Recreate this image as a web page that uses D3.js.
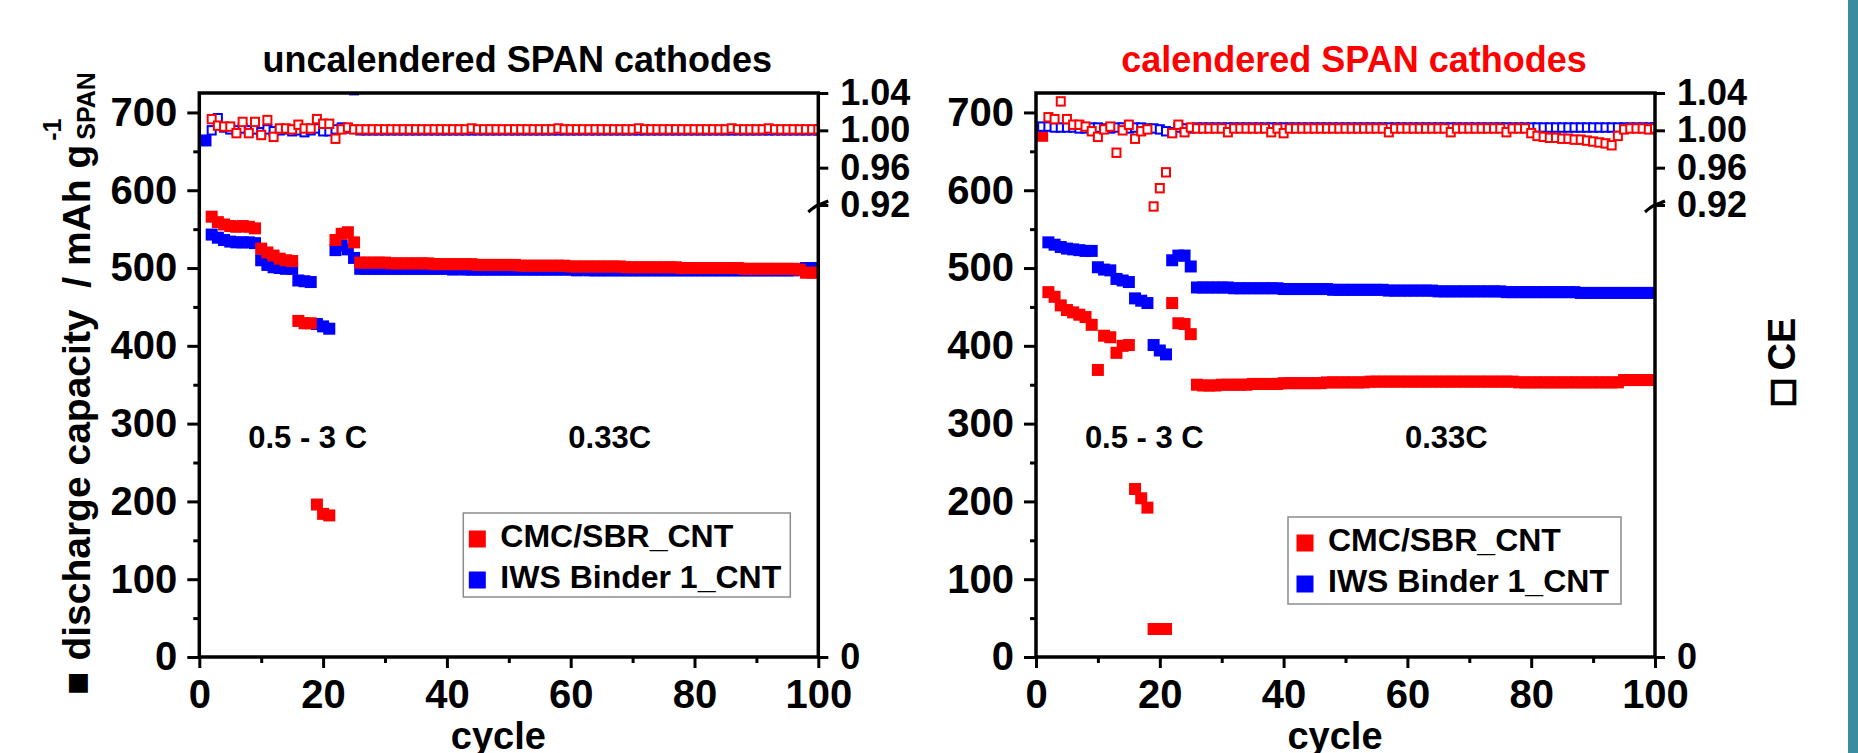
<!DOCTYPE html>
<html>
<head>
<meta charset="utf-8">
<script src="https://cdn.jsdelivr.net/npm/d3@7"></script>
<style>
  body { margin: 0; background: #fff; }
  svg { display: block; font-family: "Liberation Sans", Arial, sans-serif; font-weight: bold; }
</style>
</head>
<body>
<svg id="chart" width="1858" height="753"></svg>
<script>
// cycle numbers and axis ticks
const cycles = d3.range(1, 101);
const capTicks = [0, 100, 200, 300, 400, 500, 600, 700];
const capMinorTicks = [50, 150, 250, 350, 450, 550, 650];
const cycleTicks = [0, 20, 40, 60, 80, 100];
const cycleMinorTicks = [10, 30, 50, 70, 90];
const ceTicks = [0, 0.92, 0.96, 1.00, 1.04];

const seriesNames = ["CMC/SBR_CNT", "IWS Binder 1_CNT"];
const seriesColors = ["#ff0000", "#0000ff"];

// uncalendered cathodes: discharge capacity (mAh/g), cycles 1..100
const uncalCmcCap = [
  null, 566, 559, 556, 554, 553, 554, 553, 551, 525,
  520, 516, 512, 510, 509, 432, 429, 429, 196, 184,
  182, 536, 544, 546, 533, 507, 507, 507, 507, 507,
  506, 506, 506, 506, 506, 506, 506, 505, 505, 505,
  505, 505, 505, 505, 504, 504, 504, 504, 504, 504,
  504, 503, 503, 503, 503, 503, 503, 503, 503, 502,
  502, 502, 502, 502, 502, 502, 502, 502, 501, 501,
  501, 501, 501, 501, 501, 501, 501, 500, 500, 500,
  500, 500, 500, 500, 500, 500, 500, 499, 499, 499,
  499, 499, 499, 499, 499, 499, 498, 494, 494, 494
];
const uncalIwsCap = [
  664, 543, 539, 536, 534, 533, 533, 533, 532, 510,
  504, 501, 500, 499, 499, 484, 483, 482, 428, 425,
  422, 523, 529, 524, 513, 499, 499, 499, 499, 499,
  499, 499, 499, 499, 499, 499, 499, 499, 499, 499,
  498, 499, 498, 498, 498, 498, 498, 498, 498, 498,
  498, 498, 498, 498, 498, 498, 498, 498, 498, 498,
  497, 498, 497, 497, 497, 497, 497, 497, 497, 497,
  497, 497, 497, 497, 497, 497, 497, 497, 497, 497,
  497, 497, 497, 497, 497, 497, 497, 497, 497, 497,
  497, 497, 497, 497, 497, 497, 498, 500, 500, 500
];
// uncalendered cathodes: coulombic efficiency
const uncalCmcCE = [
  null, 1.012, 1.005, 1.004, 1.004, 0.997, 1.009, 0.997, 1.009, 0.995,
  1.011, 0.993, 1.002, 1.002, 1.001, 1.006, 1.002, 1.002, 1.012, 1.007,
  1.007, 0.991, 1.001, 1.003, 1.001, 1.001, 1.001, 1.001, 1.001, 1.001,
  1.001, 1.001, 1.001, 1.001, 1.001, 1.001, 1.001, 1.001, 1.001, 1.001,
  1.001, 1.001, 1.001, 1.002, 1.001, 1.001, 1.001, 1.001, 1.001, 1.001,
  1.001, 1.001, 1.001, 1.001, 1.001, 1.001, 1.001, 1.002, 1.001, 1.001,
  1.001, 1.001, 1.001, 1.001, 1.001, 1.001, 1.001, 1.001, 1.001, 1.001,
  1.002, 1.001, 1.001, 1.001, 1.001, 1.001, 1.001, 1.001, 1.001, 1.001,
  1.001, 1.001, 1.001, 1.001, 1.001, 1.002, 1.001, 1.001, 1.001, 1.001,
  1.001, 1.002, 1.001, 1.001, 1.001, 1.001, 1.001, 1.001, 1.001, 1.001
];
const uncalIwsCE = [
  null, 1.000, 1.013, 1.003, 1.001, 1.000, 1.002, 1.000, 1.001, 0.998,
  1.001, 0.999, 1.000, 1.001, 0.999, 1.000, 0.998, 1.000, 1.002, 0.999,
  0.999, 1.001, 1.003, 1.002, 1.043, 1.000, 1.000, 1.000, 1.000, 1.000,
  1.000, 1.000, 1.000, 1.000, 1.000, 1.000, 1.000, 1.000, 1.000, 1.000,
  1.000, 1.000, 1.000, 1.000, 1.000, 1.000, 1.000, 1.000, 1.000, 1.000,
  1.000, 1.000, 1.000, 1.000, 1.000, 1.000, 1.000, 1.000, 1.000, 1.000,
  1.000, 1.000, 1.000, 1.000, 1.000, 1.000, 1.000, 1.000, 1.000, 1.000,
  1.000, 1.000, 1.000, 1.000, 1.000, 1.000, 1.000, 1.000, 1.000, 1.000,
  1.000, 1.000, 1.000, 1.000, 1.000, 1.000, 1.000, 1.000, 1.000, 1.000,
  1.000, 1.000, 1.000, 1.000, 1.000, 1.000, 1.000, 1.000, 1.000, 1.000
];

// calendered cathodes: discharge capacity (mAh/g)
const calCmcCap = [
  670, 469, 463, 452, 446, 443, 440, 437, 427, 369,
  413, 411, 391, 400, 401, 216, 204, 192, 36, 36,
  36, 455, 429, 428, 415, 350, 349, 349, 349, 350,
  350, 350, 350, 350, 351, 351, 351, 351, 351, 352,
  352, 352, 352, 352, 352, 352, 353, 353, 353, 353,
  353, 353, 353, 354, 354, 354, 354, 354, 354, 354,
  354, 354, 354, 354, 354, 354, 354, 354, 354, 354,
  354, 354, 354, 354, 354, 354, 354, 353, 353, 353,
  353, 353, 353, 353, 353, 353, 353, 353, 353, 353,
  353, 353, 353, 353, 356, 356, 356, 356, 356, 356
];
const calIwsCap = [
  null, 533, 530, 527, 525, 524, 523, 522, 522, 501,
  498, 497, 486, 484, 482, 461, 458, 455, 401, 394,
  389, 510, 516, 516, 502, 475, 475, 475, 475, 475,
  475, 474, 474, 474, 474, 474, 474, 474, 474, 473,
  473, 473, 473, 473, 473, 473, 473, 472, 472, 472,
  472, 472, 472, 472, 472, 472, 471, 471, 471, 471,
  471, 471, 471, 471, 470, 470, 470, 470, 470, 470,
  470, 470, 470, 470, 470, 469, 469, 469, 469, 469,
  469, 469, 469, 469, 469, 469, 469, 468, 468, 468,
  468, 468, 468, 468, 468, 468, 468, 468, 468, 468
];
// calendered cathodes: coulombic efficiency
const calCmcCE = [
  null, 1.014, 1.012, 1.031, 1.012, 1.006, 1.006, 1.004, 0.999, 0.993,
  1.001, 1.004, 0.976, 1.000, 1.006, 0.991, 0.999, 1.001, 0.917, 0.938,
  0.955, 0.997, 1.006, 0.998, 1.003, 1.002, 1.002, 1.002, 1.002, 1.002,
  0.998, 1.002, 1.002, 1.002, 1.002, 1.002, 1.002, 0.998, 1.002, 0.997,
  1.002, 1.002, 1.002, 1.002, 1.002, 1.002, 1.002, 1.002, 1.002, 1.002,
  1.002, 1.002, 1.002, 1.002, 1.002, 1.002, 0.998, 1.002, 1.002, 1.002,
  1.002, 1.002, 1.002, 1.002, 1.002, 1.002, 0.998, 1.002, 1.002, 1.002,
  1.002, 1.002, 1.002, 1.002, 1.002, 0.998, 1.002, 1.002, 1.002, 0.997,
  0.994, 0.993, 0.992, 0.992, 0.991, 0.991, 0.990, 0.990, 0.989, 0.988,
  0.987, 0.986, 0.984, 0.994, 1.001, 1.002, 1.002, 1.002, 1.001, 1.002
];
const calIwsCE = [
  1.004, 1.004, 1.003, 1.003, 1.003, 1.003, 1.002, 1.002, 1.003, 1.003,
  1.002, 1.002, 1.003, 1.003, 1.002, 1.003, 1.003, 1.002, 1.002, 1.001,
  0.999, 0.998, 1.003, 1.002, 1.002, 1.003, 1.003, 1.003, 1.003, 1.003,
  1.003, 1.003, 1.003, 1.003, 1.003, 1.003, 1.003, 1.003, 1.003, 1.003,
  1.003, 1.003, 1.003, 1.003, 1.003, 1.003, 1.003, 1.003, 1.003, 1.003,
  1.003, 1.003, 1.003, 1.003, 1.003, 1.003, 1.003, 1.003, 1.003, 1.003,
  1.003, 1.003, 1.003, 1.003, 1.003, 1.003, 1.003, 1.003, 1.003, 1.003,
  1.003, 1.003, 1.003, 1.003, 1.003, 1.003, 1.003, 1.003, 1.003, 1.003,
  1.003, 1.003, 1.003, 1.003, 1.003, 1.003, 1.003, 1.003, 1.003, 1.003,
  1.003, 1.003, 1.003, 1.003, 1.003, 1.003, 1.003, 1.003, 1.003, 1.003
];

const svg = d3.select("#chart");
svg.append("rect").attr("width", 1858).attr("height", 753).attr("fill", "#fff");
// teal strip on the right edge
svg.append("rect").attr("x", 1848).attr("width", 10).attr("height", 753).attr("fill", "#3b8c9d");

const plotW = 619, plotTop = 93, plotBottom = 657;

const styleAxis = (a, size) => {
    a.select(".domain").remove();
    a.selectAll(".tick line").attr("stroke", "#000").attr("stroke-width", 3);
    a.selectAll(".tick text")
        .attr("fill", "#000")
        .attr("font-family", '"Liberation Sans", Arial, sans-serif')
        .attr("font-weight", "bold")
        .attr("font-size", size);
};

const toPoints = arr => cycles.map((c, i) => ({ c, v: arr[i] })).filter(d => d.v != null);

function drawPanel(p) {
    const g = svg.append("g");
    const x = d3.scaleLinear().domain([0, 100]).range([p.left, p.left + plotW]);
    const y = d3.scaleLinear().domain([0, 725]).range([plotBottom, plotTop]);
    // broken CE axis: 0..0.92 squeezed below the break, 0.92..1.04 on top
    const ce = d3.scaleLinear().domain([0, 0.92, 1.04]).range([plotBottom, 205, plotTop]);

    g.append("clipPath").attr("id", p.id + "-clip")
        .append("rect")
        .attr("x", p.left).attr("y", plotTop)
        .attr("width", plotW).attr("height", plotBottom - plotTop);

    const marks = g.append("g").attr("clip-path", `url(#${p.id}-clip)`);

    // capacity: filled squares (blue under red)
    [[p.iwsCap, seriesColors[1]], [p.cmcCap, seriesColors[0]]].forEach(([arr, color]) => {
        marks.append("g").selectAll("rect")
            .data(toPoints(arr))
            .join("rect")
            .attr("x", d => x(d.c) - 6)
            .attr("y", d => y(d.v) - 6)
            .attr("width", 12)
            .attr("height", 12)
            .attr("fill", color);
    });

    // coulombic efficiency: open squares
    [[p.iwsCE, seriesColors[1]], [p.cmcCE, seriesColors[0]]].forEach(([arr, color]) => {
        marks.append("g").selectAll("rect")
            .data(toPoints(arr))
            .join("rect")
            .attr("x", d => x(d.c) - 4)
            .attr("y", d => ce(d.v) - 4.2)
            .attr("width", 8)
            .attr("height", 8.4)
            .attr("fill", "#fff")
            .attr("stroke", color)
            .attr("stroke-width", 2);
    });

    // frame
    g.append("rect")
        .attr("x", p.left).attr("y", plotTop)
        .attr("width", plotW).attr("height", plotBottom - plotTop)
        .attr("fill", "none").attr("stroke", "#000").attr("stroke-width", 3.5);

    // left axis
    g.append("g").attr("transform", `translate(${p.left},0)`)
        .call(d3.axisLeft(y).tickValues(capTicks).tickSize(12).tickPadding(10).tickFormat(d3.format("d")))
        .call(a => styleAxis(a, 40));
    g.append("g").attr("transform", `translate(${p.left},0)`)
        .call(d3.axisLeft(y).tickValues(capMinorTicks).tickSize(6).tickFormat(""))
        .call(a => styleAxis(a, 40));

    // bottom axis
    g.append("g").attr("transform", `translate(0,${plotBottom})`)
        .call(d3.axisBottom(x).tickValues(cycleTicks).tickSize(11).tickPadding(12).tickFormat(d3.format("d")))
        .call(a => styleAxis(a, 40));
    g.append("g").attr("transform", `translate(0,${plotBottom})`)
        .call(d3.axisBottom(x).tickValues(cycleMinorTicks).tickSize(6).tickFormat(""))
        .call(a => styleAxis(a, 40));

    // right CE axis
    g.append("g").attr("transform", `translate(${p.left + plotW},0)`)
        .call(d3.axisRight(ce).tickValues(ceTicks).tickSize(10).tickPadding(12)
            .tickFormat(d => d === 0 ? "0" : d3.format(".2f")(d)))
        .call(a => styleAxis(a, 36));

    // axis break mark at 0.92
    const xb = p.left + plotW, yb = ce(0.92);
    g.append("path")
        .attr("d", `M${xb - 10},${yb + 7} Q${xb - 3},${yb + 1} ${xb},${yb} T${xb + 10},${yb - 4}`)
        .attr("fill", "none").attr("stroke", "#000").attr("stroke-width", 3);

    // title
    g.append("text")
        .attr("x", p.left + 318).attr("y", 72)
        .attr("text-anchor", "middle")
        .style("font-size", "36px")
        .attr("fill", p.titleColor)
        .text(p.title);

    // x label
    g.append("text")
        .attr("x", p.left + 299).attr("y", 749)
        .attr("text-anchor", "middle")
        .style("font-size", "38px")
        .text("cycle");

    // C-rate annotations
    g.append("text")
        .attr("x", x(17.5)).attr("y", y(269))
        .attr("text-anchor", "middle")
        .style("font-size", "31px")
        .style("white-space", "pre")
        .text("0.5 - 3 C");
    g.append("text")
        .attr("x", x(66.3)).attr("y", y(269))
        .attr("text-anchor", "middle")
        .style("font-size", "31px")
        .text("0.33C");

    // legend
    const lg = g.append("g").attr("transform", `translate(${p.left + p.legX},${p.legY})`);
    lg.append("rect")
        .attr("width", p.legW).attr("height", p.legH)
        .attr("fill", "#fff").attr("stroke", "#8c8c8c").attr("stroke-width", 1.5);
    seriesNames.forEach((name, i) => {
        lg.append("rect")
            .attr("x", p.legMark - 8.5).attr("y", 26 + i * 41 - 8.5)
            .attr("width", 17).attr("height", 17)
            .attr("fill", seriesColors[i]);
        lg.append("text")
            .attr("x", p.legText).attr("y", 33.5 + i * 41)
            .style("font-size", "32px")
            .text(name);
    });
}

drawPanel({
    id: "uncal", left: 199.3, title: "uncalendered SPAN cathodes", titleColor: "#000",
    cmcCap: uncalCmcCap, iwsCap: uncalIwsCap, cmcCE: uncalCmcCE, iwsCE: uncalIwsCE,
    legX: 264, legY: 513, legW: 327, legH: 84, legMark: 14, legText: 37
});
drawPanel({
    id: "cal", left: 1036, title: "calendered SPAN cathodes", titleColor: "#ff0000",
    cmcCap: calCmcCap, iwsCap: calIwsCap, cmcCE: calCmcCE, iwsCE: calIwsCE,
    legX: 252, legY: 517, legW: 333, legH: 87, legMark: 17, legText: 40
});

// left y title with stacked superscript / subscript
const yTitle = svg.append("g").attr("transform", "translate(90,0) rotate(-90)");
const yMain = yTitle.append("text")
    .attr("x", -695).attr("y", 0)
    .style("font-size", "39px")
    .style("white-space", "pre")
    .text("■ discharge capacity  / mAh g");
const mainEnd = -695 + yMain.node().getComputedTextLength();
yTitle.append("text").attr("x", mainEnd + 4).attr("y", -29).style("font-size", "25px").text("-1");
yTitle.append("text").attr("x", mainEnd + 5).attr("y", 5).style("font-size", "25px").text("SPAN");

// right CE title; the square glyph is stroked to get the heavy outline
const ceTitle = svg.append("text")
    .attr("transform", "translate(1795,404) rotate(-90)")
    .style("font-size", "38px")
    .style("white-space", "pre");
ceTitle.append("tspan").attr("stroke", "#000").attr("stroke-width", 2.5).text("□");
ceTitle.append("tspan").text(" CE");
</script>
</body>
</html>
